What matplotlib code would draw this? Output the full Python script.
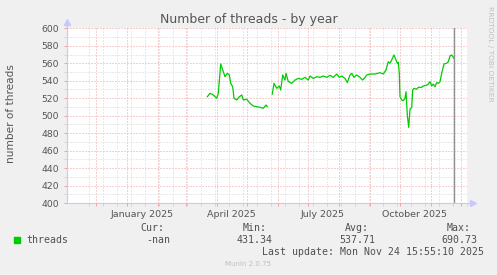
import pandas as pd
import matplotlib
matplotlib.use('Agg')
from matplotlib import pyplot as plt
from matplotlib import dates as mdates
from matplotlib.ticker import MultipleLocator, FixedLocator, NullFormatter
from matplotlib.patches import Rectangle

# days since 2025-01-01, thread count (None = gap in data)
days = [80.6, 83.3, 86.6, 90, 91.6, 94, 96, 98.3, 100.6, 102.6, 104, 106, 107.3, 110,
        112.6, 115, 116.6, 120, 123.3, 126.6, 130, 133.3, 136.6, 139.3, 140.6,
        143,
        145.6, 147.3, 150, 152.6, 154, 156, 158.3, 159.3, 161.6, 165, 168.3, 171.6,
        175, 178.3, 181.6, 183.3, 186.6, 190, 193.3, 196.6, 200, 203.3, 206.6, 210,
        212.6, 215, 218.3, 220.6, 223.3, 225, 227.3, 230, 233.3, 236, 238.3, 240,
        243.3, 248.3, 253.3, 256.6, 259.3, 261.6, 263.3, 265, 267.3, 269.3, 270.6,
        271.6, 272.6, 273.3, 275, 276.6, 278.3, 279.3, 280.6, 282, 283.3, 285, 286,
        287.3, 290, 291.6, 295, 296.6, 300, 301.6, 303.3, 305, 306.6, 308.3, 310,
        311.6, 313.3, 315, 317.3, 320, 321.6, 323.3, 325, 327.3]
threads = [521.7, 525.6, 523.7, 520, 525.6, 559.2, 552.3, 544.6, 548.5, 546.6, 537, 533.2,
           520, 518, 521.7, 523.7, 518, 518.8, 514.2, 511.1, 510.3, 509.6, 508.5, 512.2,
           510.3,
           None,
           524.8, 537, 531.3, 534, 529.4, 546.6, 540.8, 548.5, 539, 537, 540.8, 542.7,
           541.6, 543.9, 540.8, 545.4, 542.7, 544.6, 543.9, 545.4, 543.9, 546.2, 543.9,
           547.7, 543.9, 545.4, 542.7, 537.8, 546.6, 548.5, 543.9, 546.6, 543.9, 540.8,
           543.9, 546.6, 547.7, 547.7, 549.2, 547.7, 552.3, 561.8, 560, 563.8, 569.5,
           563.8, 560, 561, 548.5, 521.7, 518, 517.2, 520, 527.5, 500.8, 486.7, 507.3,
           509.6, 529.4, 531.3, 530.2, 532.5, 532.5, 534, 535, 536.2, 538.9, 534, 536.2,
           533.2, 537.8, 537, 538.9, 548.5, 559.2, 560, 561.8, 568.3, 569.5, 565.7]

month_labels = ['January 2025', 'April 2025', 'July 2025', 'October 2025']
month_label_dates = ['2025-01-16', '2025-04-16', '2025-07-16', '2025-10-16']
now = '2025-11-24 15:55'

W, H = 497, 275
fig = plt.figure(figsize=(W / 100, H / 100), dpi=100, facecolor='#F0F0F0')
ax = fig.add_axes([66.7 / W, 1 - 203.1 / H, 400 / W, 174.8 / H])
ax.set_facecolor('white')

x = pd.Timestamp('2025-01-01') + pd.to_timedelta(days, unit='D')
y = pd.Series(threads, dtype=float)
ax.plot(x, y, color='#00CC00', lw=0.9, zorder=3)
ax.axvline(pd.Timestamp(now), color='#909090', lw=1.0, zorder=4)

ax.set_xlim(pd.Timestamp('2024-11-02'), pd.Timestamp('2025-12-07'))
ax.set_ylim(400, 600)

ax.xaxis.set_major_locator(mdates.MonthLocator())
ax.xaxis.set_minor_locator(FixedLocator(mdates.date2num(
    pd.date_range('2024-11-24', '2025-12-07', freq='14D'))))
ax.xaxis.set_major_formatter(NullFormatter())
ax.yaxis.set_major_locator(MultipleLocator(20))
ax.yaxis.set_minor_locator(MultipleLocator(10))

red = '#eaa2a2'
grey = '#d4d4d4'
ax.set_axisbelow(True)
ax.grid(which='major', color=red, ls=(0, (1, 2)), lw=0.72)
ax.grid(which='minor', color=grey, ls=(0, (1, 2)), lw=0.72)
ax.tick_params(which='major', length=2, color=red, width=0.72)
ax.tick_params(which='minor', length=2, color=grey, width=0.72)
ax.tick_params(axis='y', labelsize=6.7, labelcolor='#555555', pad=3.4)

for s in ax.spines.values():
    s.set_visible(False)
axc = '#c8c8ff'
ax.plot([0, 1.012], [0, 0], transform=ax.transAxes, color=axc, lw=0.8, clip_on=False)
ax.plot([0, 0], [0, 1.03], transform=ax.transAxes, color=axc, lw=0.8, clip_on=False)
ax.plot([1.015], [0], marker='>', ms=4, color=axc, transform=ax.transAxes, clip_on=False)
ax.plot([0], [1.035], marker='^', ms=4, color=axc, transform=ax.transAxes, clip_on=False)

for d, lab in zip(month_label_dates, month_labels):
    ax.text(pd.Timestamp(d), -0.0767, lab, transform=ax.get_xaxis_transform(),
            ha='center', va='baseline', fontsize=6.8, color='#555555')


def px(xp, yp):
    return xp / W, 1 - yp / H


fig.text(*px(248.8, 23.5), 'Number of threads - by year', ha='center', va='baseline',
         fontsize=9, color='#555555')
fig.text(*px(11.2, 114), 'number of threads', rotation=90, ha='center', va='center',
         fontsize=7.6, color='#555555')
fig.text(*px(490, 53.5), 'RRDTOOL / TOBI OETIKER', rotation=270, ha='center', va='center',
         fontsize=5.4, color='#c0c0c0')

mono = dict(family='DejaVu Sans Mono', fontsize=7.1, color='#505050', ha='left', va='baseline')
for xp, t in [(140.7, 'Cur:'), (242.7, 'Min:'), (345, 'Avg:'), (446.7, 'Max:')]:
    fig.text(*px(xp, 231), t, **mono)
for xp, t in [(26.7, 'threads'), (146.7, '-nan'), (236.7, '431.34'), (339, '537.71'), (441, '690.73')]:
    fig.text(*px(xp, 243.3), t, **mono)
fig.text(*px(261.7, 255.3), 'Last update: Mon Nov 24 15:55:10 2025', **mono)
fig.patches.append(Rectangle(px(14, 242.7), 6 / W, 5.5 / H, transform=fig.transFigure,
                             color='#00CC00'))
fig.text(*px(247.8, 266.5), 'Munin 2.0.75', ha='center', va='baseline', fontsize=5,
         color='#c0c0c0')

fig.savefig('out.png', dpi=100, facecolor=fig.get_facecolor())
